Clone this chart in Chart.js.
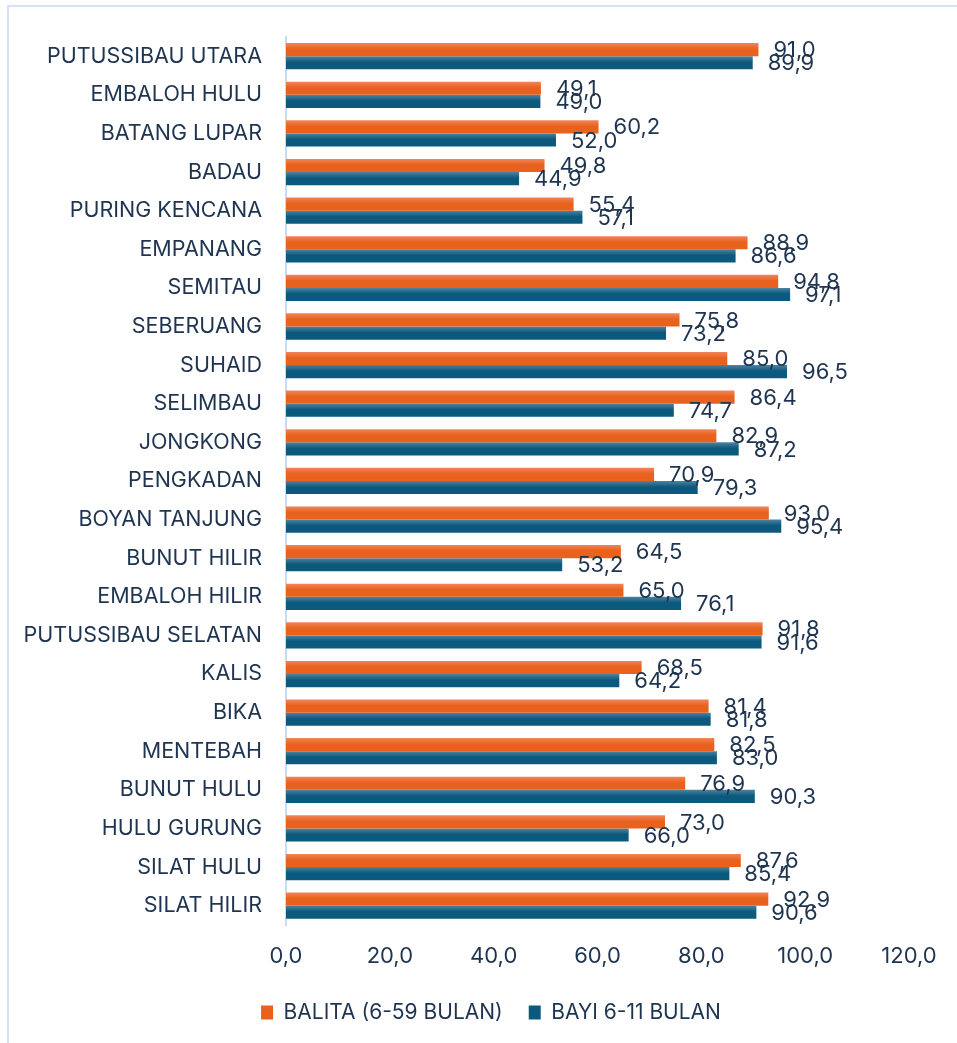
<!DOCTYPE html>
<html>
<head>
<meta charset="utf-8">
<script src="https://cdn.jsdelivr.net/npm/chart.js@4"></script>
<style>
    html, body { margin: 0; padding: 0; background: #fff; overflow: hidden; }
    #bingkai {
        position: absolute; left: 7px; top: 5px; width: 980px; height: 1060px;
        border: 2px solid #d5e4f5; box-sizing: border-box;
    }
    #wadah { position: absolute; left: 0; top: 0; width: 957px; height: 1043px; }
</style>
</head>
<body>
<div id="bingkai"></div>
<div id="wadah"><canvas id="grafikKecamatan"></canvas></div>
<script>
const kecamatan = [
    'PUTUSSIBAU UTARA', 'EMBALOH HULU', 'BATANG LUPAR', 'BADAU', 'PURING KENCANA',
    'EMPANANG', 'SEMITAU', 'SEBERUANG', 'SUHAID', 'SELIMBAU', 'JONGKONG',
    'PENGKADAN', 'BOYAN TANJUNG', 'BUNUT HILIR', 'EMBALOH HILIR',
    'PUTUSSIBAU SELATAN', 'KALIS', 'BIKA', 'MENTEBAH', 'BUNUT HULU',
    'HULU GURUNG', 'SILAT HULU', 'SILAT HILIR'
];
const balita = [
    91.0, 49.1, 60.2, 49.8, 55.4, 88.9, 94.8, 75.8, 85.0, 86.4, 82.9,
    70.9, 93.0, 64.5, 65.0, 91.8, 68.5, 81.4, 82.5, 76.9, 73.0, 87.6, 92.9
];
const bayi = [
    89.9, 49.0, 52.0, 44.9, 57.1, 86.6, 97.1, 73.2, 96.5, 74.7, 87.2,
    79.3, 95.4, 53.2, 76.1, 91.6, 64.2, 81.8, 83.0, 90.3, 66.0, 85.4, 90.6
];
const tickX = [0, 20, 40, 60, 80, 100, 120];

const teks = '#1e3450';
const huruf = 'Inter, "DejaVu Sans", sans-serif';
const katPersen = 0.68;

const warna = [
    { atas: '#f0855a', bawah: '#e8621e' },
    { atas: '#4f82a0', bawah: '#0b5a7d' },
];

const angka = v => v.toFixed(1).replace('.', ',');

// gradasi vertikal per batang, dihitung dari posisi kategori pada sumbu y
function isiBatang(ctx) {
    const w = warna[ctx.datasetIndex];
    const chart = ctx.chart;
    const sy = chart.scales.y;
    if (!chart.chartArea || !sy || ctx.dataIndex === undefined) return w.bawah;
    const jarak = (sy.bottom - sy.top) / kecamatan.length;
    const tebal = jarak * katPersen / 2;
    const tengah = sy.getPixelForValue(ctx.dataIndex);
    const y0 = tengah - tebal + ctx.datasetIndex * tebal;
    const g = chart.ctx.createLinearGradient(0, y0, 0, y0 + tebal);
    g.addColorStop(0, w.atas);
    g.addColorStop(0.45, w.bawah);
    g.addColorStop(1, w.bawah);
    return g;
}

const labelNilai = {
    id: 'labelNilai',
    afterDatasetsDraw(chart) {
        const c = chart.ctx;
        c.save();
        c.font = '22px ' + huruf;
        c.fillStyle = teks;
        c.textAlign = 'left';
        c.textBaseline = 'middle';
        chart.data.datasets.forEach((ds, i) => {
            chart.getDatasetMeta(i).data.forEach((bar, j) => {
                c.fillText(angka(ds.data[j]), bar.x + 15, bar.y + 1);
            });
        });
        c.restore();
    }
};

// legenda dipusatkan di bawah area plot, bukan di tengah kanvas
const geserLegenda = {
    id: 'geserLegenda',
    afterLayout(chart) {
        chart.legend.left += 73;
    }
};

new Chart(document.getElementById('grafikKecamatan'), {
    type: 'bar',
    data: {
        labels: kecamatan,
        datasets: [
            { label: 'BALITA (6-59 BULAN)', data: balita, backgroundColor: isiBatang },
            { label: 'BAYI 6-11 BULAN', data: bayi, backgroundColor: isiBatang },
        ]
    },
    plugins: [labelNilai, geserLegenda],
    options: {
        indexAxis: 'y',
        responsive: true,
        maintainAspectRatio: false,
        animation: false,
        layout: { padding: { top: 30, right: 48, bottom: 10, left: 0 } },
        datasets: { bar: { categoryPercentage: katPersen, barPercentage: 1 } },
        plugins: {
            tooltip: { enabled: false },
            legend: {
                position: 'bottom',
                labels: {
                    color: teks,
                    font: { family: huruf, size: 21 },
                    boxWidth: 12, boxHeight: 14, padding: 26,
                    generateLabels: chart => chart.data.datasets.map((ds, i) => ({
                        text: ds.label, fillStyle: warna[i].bawah, strokeStyle: warna[i].bawah,
                        lineWidth: 0, datasetIndex: i, fontColor: teks
                    }))
                }
            }
        },
        scales: {
            x: {
                min: 0, max: 120,
                afterBuildTicks: s => { s.ticks = tickX.map(v => ({ value: v })); },
                afterFit: s => { s.height = 51; },
                grid: { display: false, drawTicks: false },
                border: { display: false },
                ticks: { color: teks, font: { family: huruf, size: 22 }, padding: 18, callback: v => angka(v) }
            },
            y: {
                afterFit: s => { s.width = 286; },
                grid: { display: false, drawTicks: false },
                border: { display: true, color: '#c9dbf0', width: 2 },
                ticks: { color: teks, font: { family: huruf, size: 21.5 }, padding: 24, autoSkip: false }
            }
        }
    }
});
</script>
</body>
</html>
